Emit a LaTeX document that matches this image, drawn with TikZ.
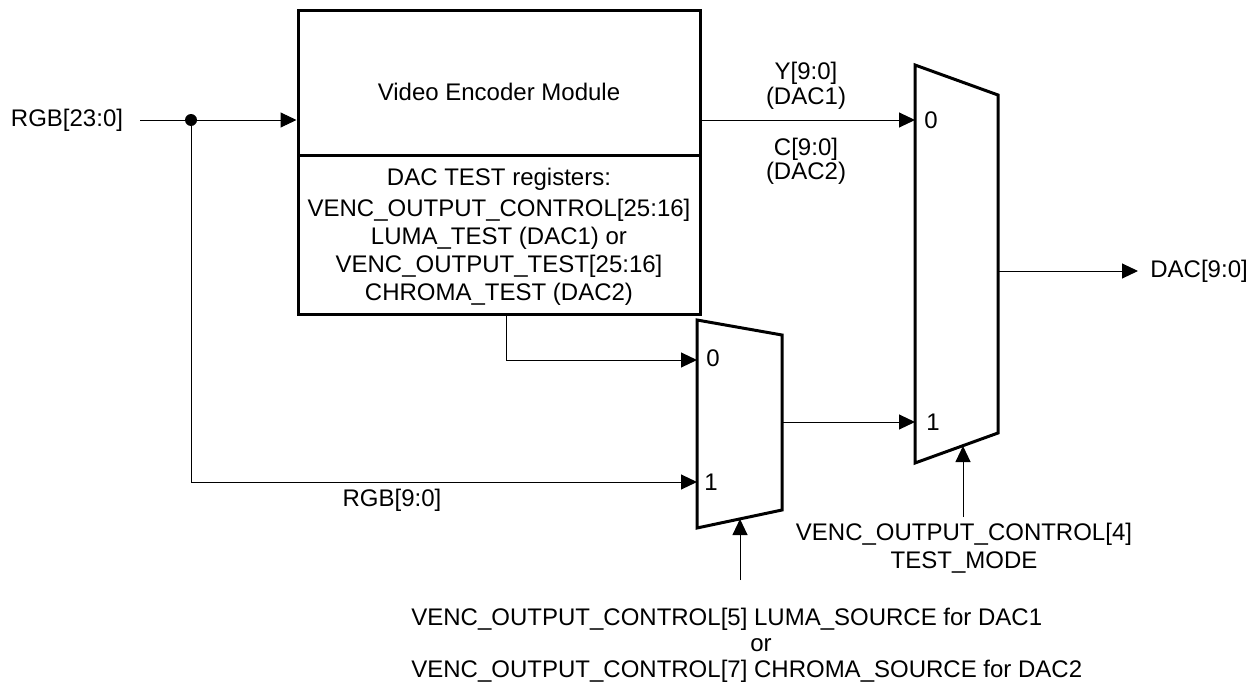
\documentclass[tikz,border=0pt]{standalone}
\usepackage{fontspec}
\setmainfont{Liberation Sans}
\usetikzlibrary{positioning, arrows.meta, calc}

\begin{document}
\begin{tikzpicture}[
    x=0.5pt, y=-0.5pt,
    box/.style={rectangle, draw, line width=1.5pt, inner sep=0pt},
    mux/.style={draw, line width=1.5pt, line join=miter},
    lbl/.style={font=\fontsize{12}{14}\selectfont, align=center, inner sep=0pt},
    port/.style={lbl, anchor=west},
    wire/.style={line width=0.5pt},
    arrow/.style={wire, -{Triangle[length=8pt, width=7.5pt]}},
    junction/.style={circle, fill, minimum size=6pt, inner sep=0pt},
]
    \useasboundingbox (0,0) rectangle (1253,685);

    % Encoder module and test registers
    \node[box, minimum width=201pt, minimum height=72.5pt] (venc) at (499,82.5) {};
    \node[lbl] (venclbl) at (499,92) {Video Encoder Module};
    \node[box, minimum width=201pt, minimum height=79.5pt] (dactest) at (499,234.5) {};
    \node[lbl] (dactestlbl) at (499,237) {DAC TEST registers:\\[1.5pt]
        VENC\_OUTPUT\_CONTROL[25:16]\\LUMA\_TEST (DAC1) or\\
        VENC\_OUTPUT\_TEST[25:16]\\CHROMA\_TEST (DAC2)};

    % Multiplexers
    \draw[mux] (697,320) -- (782,335) -- (782,510) -- (697,528) -- cycle;
    \draw[mux] (915,65) -- (998,95) -- (998,433) -- (915,463) -- cycle;
    \coordinate (m1in0) at (697,360);
    \coordinate (m1in1) at (697,482);
    \coordinate (m1out) at (782,422);
    \coordinate (m1sel) at (740,519);
    \coordinate (m2in0) at (915,120);
    \coordinate (m2in1) at (915,422);
    \coordinate (m2out) at (998,271);
    \coordinate (m2sel) at (963,446);
    \node[port] (m1p0) at (706,358) {0};
    \node[port] (m1p1) at (704,482) {1};
    \node[port] (m2p0) at (924,120) {0};
    \node[port] (m2p1) at (926,422) {1};

    % Input
    \node[lbl] (rgbin) at (67,120) {RGB[23:0]};
    \coordinate (rgbstart) at (140,120);
    \node[junction] (split) at (191,120) {};
    \draw[arrow] (rgbstart) -- (split) -- (split -| venc.west);
    \draw[arrow] (split) |- (m1in1);
    \node[lbl] (rgblow) at (392,500) {RGB[9:0]};

    % Encoder outputs
    \draw[arrow] (venc.east |- m2in0) -- (m2in0);
    \node[lbl, font=\fontsize{12}{12.5}\selectfont] (ylbl) at (806,86) {Y[9:0]\\(DAC1)};
    \node[lbl, font=\fontsize{12}{12}\selectfont] (clbl) at (806,161) {C[9:0]\\(DAC2)};
    \draw[arrow] ([xshift=3.5pt]dactest.south) |- (m1in0);
    \draw[arrow] (m1out) -- (m2in1);

    % Output
    \node[lbl, anchor=west] (dacout) at (1150,271) {DAC[9:0]};
    \draw[arrow] (m2out) -- ([xshift=-6pt]dacout.west);

    % Select lines
    \node[lbl] (sel2) at (964,548) {VENC\_OUTPUT\_CONTROL[4]\\TEST\_MODE};
    \coordinate (sel2start) at (963,517);
    \draw[arrow] (sel2start) -- (m2sel);
    \node[lbl, align=left, font=\fontsize{12}{13}\selectfont, anchor=north west] (sel1) at (411,608)
        {VENC\_OUTPUT\_CONTROL[5] LUMA\_SOURCE for DAC1\\
        \hspace*{169.5pt}or\\
        VENC\_OUTPUT\_CONTROL[7] CHROMA\_SOURCE for DAC2};
    \coordinate (sel1start) at (740,580);
    \draw[arrow] (sel1start) -- (m1sel);
\end{tikzpicture}
\end{document}
